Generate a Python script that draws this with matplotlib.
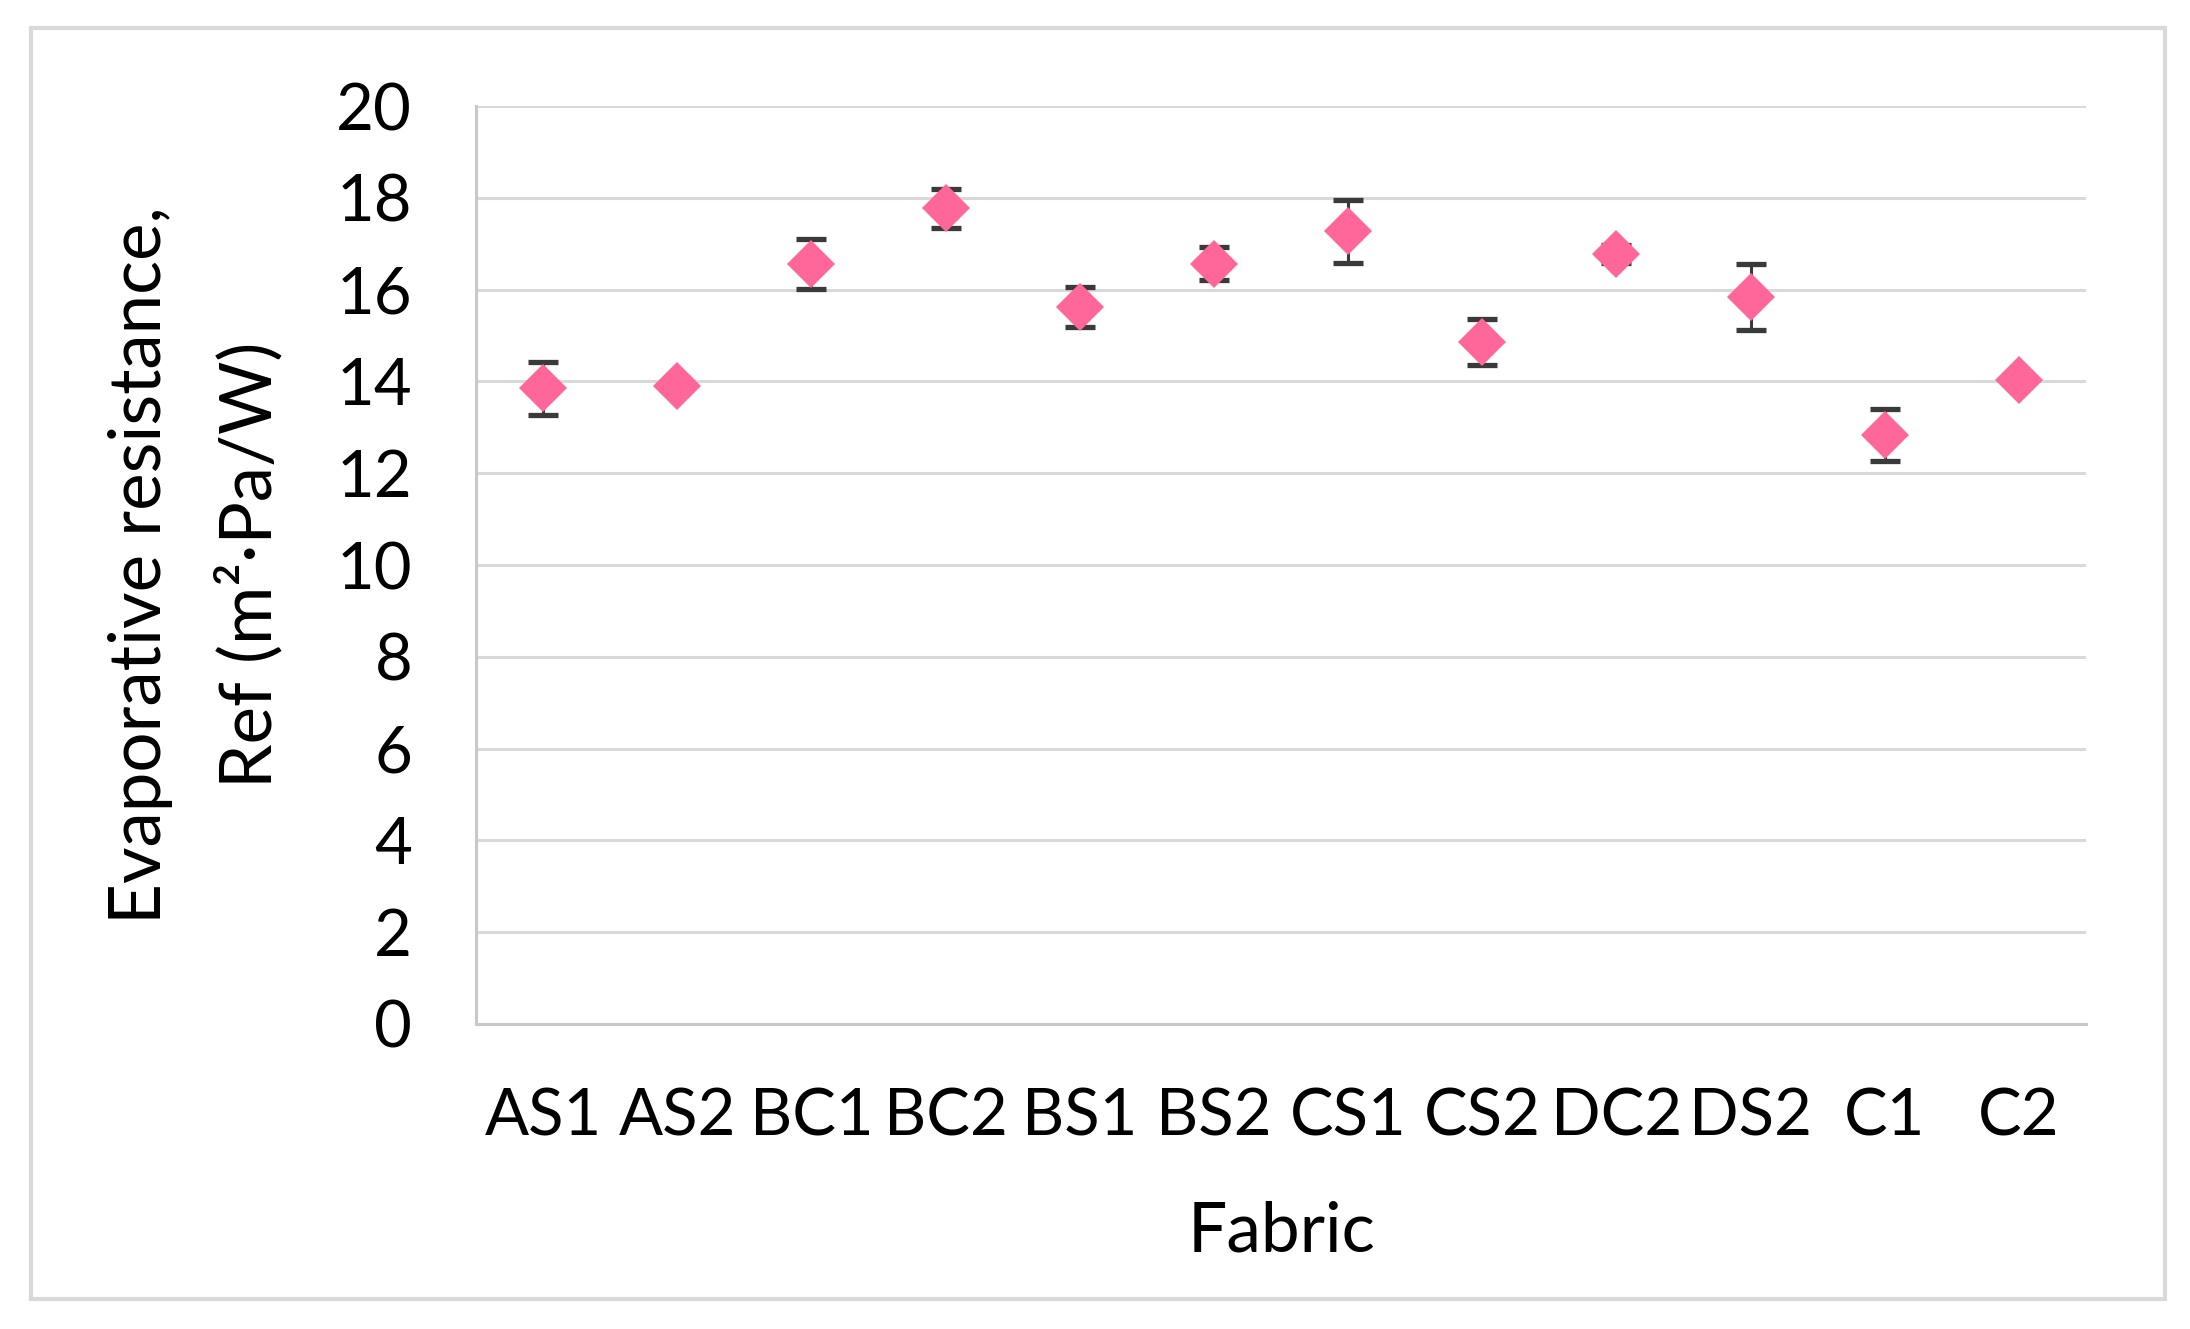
import matplotlib
matplotlib.use("Agg")
import matplotlib.pyplot as plt
from matplotlib.patches import Rectangle
import numpy as np

fabrics = ["AS1", "AS2", "BC1", "BC2", "BS1", "BS2",
           "CS1", "CS2", "DC2", "DS2", "C1", "C2"]
ref_mean = [13.85, 13.91, 16.56, 17.77, 15.62, 16.56,
            17.27, 14.85, 16.78, 15.84, 12.84, 14.04]
ref_err = [0.58, 0.10, 0.54, 0.43, 0.44, 0.36,
           0.68, 0.50, 0.20, 0.72, 0.57, 0.10]
y_ticks = [0, 2, 4, 6, 8, 10, 12, 14, 16, 18, 20]

plt.rcParams.update({"font.family": ["Lato", "DejaVu Sans"],
                     "font.size": 23.5})

fig = plt.figure(figsize=(10.95, 6.645), dpi=200)
ax = fig.add_axes([0.2174, 0.2295, 0.7351, 0.6907])

x = np.arange(len(fabrics))
ax.errorbar(x, ref_mean, yerr=ref_err, fmt="none", ecolor="#3A3A3A",
            elinewidth=1.1, capsize=5.5, capthick=1.9, zorder=2)
ax.plot(x, ref_mean, "D", color="#FF6699", markersize=12,
        markeredgewidth=0, zorder=3)

ax.set_xlim(-0.5, len(fabrics) - 0.5)
ax.set_ylim(0, 20)
ax.set_yticks(y_ticks)
ax.set_xticks(x)
ax.set_xticklabels(fabrics)
ax.tick_params(length=0, colors="black")
ax.tick_params(axis="y", pad=23)
ax.tick_params(axis="x", pad=23)
ax.grid(axis="y", color="#D9D9D9", lw=1.1)
ax.set_axisbelow(True)
for s in ("top", "right"):
    ax.spines[s].set_visible(False)
for s in ("left", "bottom"):
    ax.spines[s].set_color("#C8C8C8")
    ax.spines[s].set_linewidth(1.1)

ax.set_xlabel("Fabric", fontsize=25)
ax.xaxis.label.set_va("center")
ax.xaxis.set_label_coords(0.5, -0.2266)
ax.set_ylabel("Evaporative resistance,\nRef (m\u00b2\u00b7Pa/W)",
              fontsize=25.5, linespacing=1.75, ha="center")
ax.yaxis.label.set_va("center")
ax.yaxis.set_label_coords(-0.174, 0.5)

# chart-area border like the spreadsheet export
fig.patches.append(Rectangle((0.0142, 0.0226), 0.9744, 0.9564,
                             transform=fig.transFigure, fill=False,
                             ec="#D9D9D9", lw=1.5))

fig.savefig("out.png", dpi=200, facecolor="white")
